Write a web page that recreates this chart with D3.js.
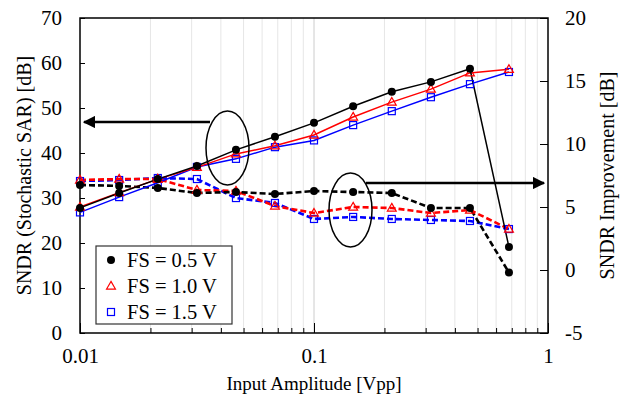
<!DOCTYPE html>
<html><head><meta charset="utf-8">
<script src="https://cdn.jsdelivr.net/npm/d3@7"></script>
<style>body{margin:0;background:#fff}svg{display:block}text{font-family:"Liberation Serif","Times New Roman",serif;fill:#000}</style>
</head><body><svg id="c" width="630" height="401"></svg>
<script>
const amplitudes = [0.01, 0.0147, 0.0215, 0.0316, 0.0464, 0.0681, 0.1, 0.147, 0.215, 0.316, 0.464, 0.681];
const seriesNames = ["FS = 0.5 V", "FS = 1.0 V", "FS = 1.5 V"];
// SNDR (Stochastic SAR) [dB] -- left axis
const sndr05 = [27.8, 31.1, 34.2, 37.1, 40.7, 43.6, 46.7, 50.4, 53.6, 55.8, 58.7, 19.1];
const sndr10 = [28.0, 31.2, 34.2, 36.8, 39.8, 41.6, 44.0, 48.0, 51.3, 54.2, 57.8, 58.6];
const sndr15 = [26.8, 30.2, 33.4, 36.9, 38.7, 41.3, 42.8, 46.2, 49.3, 52.4, 55.3, 58.0];
// SNDR Improvement [dB] -- right axis
const imp05 = [6.75, 6.67, 6.51, 6.11, 6.19, 6.03, 6.27, 6.19, 6.11, 4.92, 4.92, -0.2];
const imp10 = [7.14, 7.22, 7.22, 6.35, 6.27, 5.08, 4.52, 5.0, 4.92, 4.52, 4.76, 3.25];
const imp15 = [7.06, 7.14, 7.3, 7.22, 5.71, 5.32, 4.05, 4.21, 4.05, 3.97, 3.89, 3.25];
const leftTicks = [0, 10, 20, 30, 40, 50, 60, 70];
const rightTicks = [-5, 0, 5, 10, 15, 20];
const xTicks = [0.01, 0.1, 1];
const colors = ["#000000", "#ff0000", "#0000ff"];

const svg = d3.select("#c");
const L = 80, R = 548, T = 18, B = 333;
const x = d3.scaleLog().domain([0.01, 1]).range([L, R]);
const yL = d3.scaleLinear().domain([0, 70]).range([B, T]);
const yR = d3.scaleLinear().domain([-5, 20]).range([B, T]);

// gridlines
const minor = [];
for (const d of [0.01, 0.1]) for (let k = 2; k <= 9; k++) minor.push(d * k);
svg.append("g").selectAll("line").data(minor).join("line")
  .attr("x1", d => x(d)).attr("x2", d => x(d)).attr("y1", T).attr("y2", B)
  .attr("stroke", "#e6e6e6").attr("stroke-width", 1);
svg.append("g").selectAll("line").data([0.1]).join("line")
  .attr("x1", d => x(d)).attr("x2", d => x(d)).attr("y1", T).attr("y2", B)
  .attr("stroke", "#cccccc").attr("stroke-width", 1);

// axes
const fs = 21;
const gx = svg.append("g").attr("transform", `translate(0,${B})`)
  .call(d3.axisBottom(x).tickValues(xTicks).tickFormat(d => d === 1 ? "1" : String(d)).tickSize(-10).tickPadding(15));
svg.append("g").attr("transform", `translate(0,${B})`)
  .call(d3.axisBottom(x).tickValues(minor).tickFormat("").tickSize(-5))
  .call(g => g.select(".domain").remove());
const gl = svg.append("g").attr("transform", `translate(${L},0)`)
  .call(d3.axisLeft(yL).tickValues(leftTicks).tickSize(-5).tickPadding(18));
const gr = svg.append("g").attr("transform", `translate(${R},0)`)
  .call(d3.axisRight(yR).tickValues(rightTicks).tickFormat(d => String(d)).tickSize(-8).tickPadding(17));
[gx, gl, gr].forEach(g => {
  g.selectAll("text").style("font-size", fs + "px").attr("fill", "#000");
  g.selectAll("line").attr("stroke", "#000");
  g.select(".domain").attr("stroke", "none");
});
gx.selectAll("text").attr("dy", "0.71em");
svg.append("rect").attr("x", L).attr("y", T).attr("width", R - L).attr("height", B - T)
  .attr("fill", "none").attr("stroke", "#000").attr("stroke-width", 1.5);

// axis titles
svg.append("text").attr("x", x(0.1)).attr("y", 390).attr("text-anchor", "middle")
  .style("font-size", "19px").text("Input Amplitude [Vpp]");
svg.append("text").attr("transform", `translate(31,${(T + B) / 2}) rotate(-90)`)
  .attr("text-anchor", "middle").style("font-size", "20px").text("SNDR (Stochastic SAR) [dB]");
svg.append("text").attr("transform", `translate(614,${(T + B) / 2}) rotate(-90)`)
  .attr("text-anchor", "middle").style("font-size", "20px").text("SNDR Improvement [dB]");

// series
const solid = [sndr05, sndr10, sndr15];
const dashed = [imp05, imp10, imp15];
const lineL = d3.line().x((d, i) => x(amplitudes[i])).y(d => yL(d));
const lineR = d3.line().x((d, i) => x(amplitudes[i])).y(d => yR(d));

function marker(g, s, px, py) {
  if (s === 0) g.append("circle").attr("cx", px).attr("cy", py).attr("r", 4).attr("fill", "#000");
  else if (s === 1) g.append("path").attr("d", d3.symbol(d3.symbolTriangle, 34)()).attr("transform", `translate(${px},${py + 0.5})`)
    .attr("fill", "none").attr("stroke", colors[1]).attr("stroke-width", 1.2);
  else g.append("rect").attr("x", px - 3.5).attr("y", py - 3.5).attr("width", 7).attr("height", 7)
    .attr("fill", "none").attr("stroke", colors[2]).attr("stroke-width", 1.2);
}

for (let s = 2; s >= 0; s--) {
  svg.append("path").datum(dashed[s]).attr("d", lineR).attr("fill", "none")
    .attr("stroke", colors[s]).attr("stroke-width", 2.6).attr("stroke-dasharray", "6,3");
}
for (let s = 2; s >= 0; s--) {
  svg.append("path").datum(solid[s]).attr("d", lineL).attr("fill", "none")
    .attr("stroke", colors[s]).attr("stroke-width", 1.5);
}
for (let s = 2; s >= 0; s--) {
  const g = svg.append("g");
  solid[s].forEach((v, i) => marker(g, s, x(amplitudes[i]), yL(v)));
  dashed[s].forEach((v, i) => marker(g, s, x(amplitudes[i]), yR(v)));
}

// annotations: ellipses and arrows
svg.append("defs").append("marker").attr("id", "ah").attr("viewBox", "0 0 10 10")
  .attr("refX", 9).attr("refY", 5).attr("markerWidth", 5).attr("markerHeight", 5)
  .attr("orient", "auto-start-reverse").append("path").attr("d", "M0,0 L10,5 L0,10 Z").attr("fill", "#000");
svg.append("ellipse").attr("cx", 227.5).attr("cy", 148).attr("rx", 21.5).attr("ry", 37)
  .attr("fill", "none").attr("stroke", "#000").attr("stroke-width", 1.5);
svg.append("line").attr("x1", 210).attr("y1", 122).attr("x2", 84).attr("y2", 122)
  .attr("stroke", "#000").attr("stroke-width", 2.5).attr("marker-end", "url(#ah)");
svg.append("ellipse").attr("cx", 350.5).attr("cy", 210).attr("rx", 21.5).attr("ry", 37)
  .attr("fill", "none").attr("stroke", "#000").attr("stroke-width", 1.5);
svg.append("line").attr("x1", 366).attr("y1", 183).attr("x2", 544).attr("y2", 183)
  .attr("stroke", "#000").attr("stroke-width", 2.5).attr("marker-end", "url(#ah)");

// legend
const lg = svg.append("g");
lg.append("rect").attr("x", 96).attr("y", 246).attr("width", 136).attr("height", 78)
  .attr("fill", "#fff").attr("stroke", "#333").attr("stroke-width", 1.2);
seriesNames.forEach((n, i) => {
  const cy = 260 + i * 26;
  marker(lg, i, 111, cy);
  lg.append("text").attr("x", 127).attr("y", cy + 7).style("font-size", "20.5px").text(n);
});
</script></body></html>
